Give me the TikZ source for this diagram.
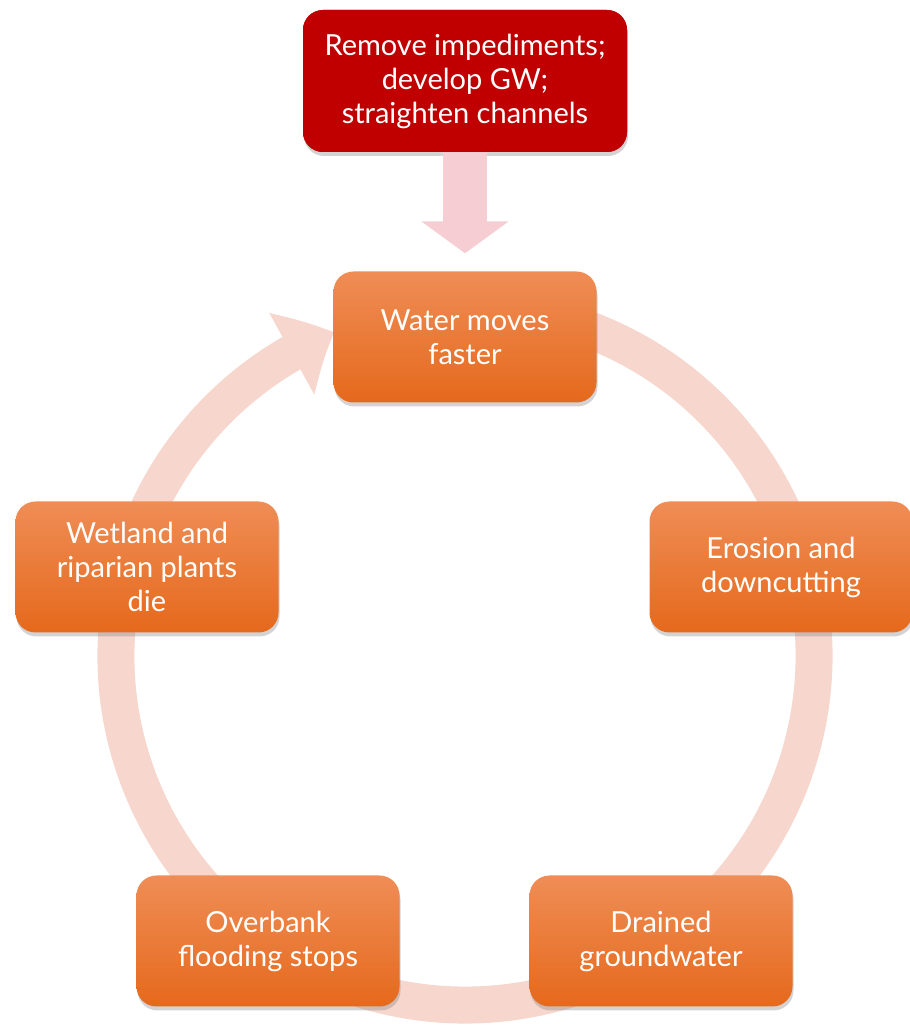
\documentclass[tikz,border=0pt]{standalone}
\usepackage{fontspec}
\setmainfont{Lato}
\usetikzlibrary{shadows,arrows.meta,bending}

\definecolor{causered}{HTML}{C00000}
\definecolor{boxtop}{HTML}{EF8D56}
\definecolor{boxbot}{HTML}{E5691C}
\definecolor{ringpink}{HTML}{F7D7CD}
\definecolor{arrowpink}{HTML}{F6CDD3}

\begin{document}
\begin{tikzpicture}[x=1pt,y=1pt,
		cyclebox/.style={rounded corners=20pt, top color=boxtop, bottom color=boxbot,
			text=white, align=center, minimum width=263pt, minimum height=131pt,
			font=\fontsize{29}{34}\selectfont,
			drop shadow={opacity=0.35, shadow xshift=1pt, shadow yshift=-4pt}},
		causebox/.style={cyclebox, fill=causered, top color=causered, bottom color=causered,
			minimum width=324pt, minimum height=142pt},
		ring/.style={draw=ringpink, line width=37pt,
			-{Triangle[width=90pt,length=48pt,bend]}},
		feed/.style={draw=arrowpink, line width=44pt,
			-{Triangle[width=86pt,length=32pt]}}]
	\useasboundingbox (0,0) rectangle (910,1028);
	\coordinate (c) at (465,372);
	% the cycle
	\draw[ring] ([shift={(75:349)}]c) arc[start angle=75, end angle=-248, radius=349];
	\node[causebox] (cause) at (465,947) {Remove impediments;\\develop GW;\\straighten channels};
	\node[cyclebox] (water) at (465,691) {Water moves\\faster};
	\node[cyclebox] (erosion) at (781,461) {Erosion and\\downcutting};
	\node[cyclebox] (drained) at (661,87) {Drained\\groundwater};
	\node[cyclebox] (overbank) at (268,87) {Overbank\\flooding stops};
	\node[cyclebox] (wetland) at (147,461) {Wetland and\\riparian plants\\die};
	\draw[feed] (cause.south) -- ([yshift=18pt]water.north);
\end{tikzpicture}
\end{document}
